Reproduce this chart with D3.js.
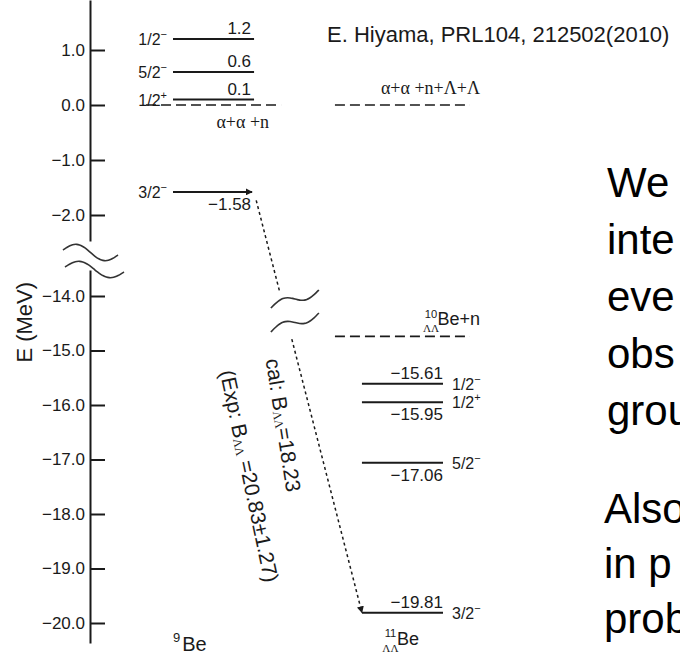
<!DOCTYPE html>
<html>
<head>
<meta charset="utf-8">
<script src="https://cdn.jsdelivr.net/npm/d3@7"></script>
<style>
  body { margin: 0; background: #fff; }
  svg { display: block; font-family: "Liberation Sans", Arial, sans-serif; }
</style>
</head>
<body>
<svg id="chart" width="680" height="660"></svg>
<script>
// level energies in MeV
const be9Energies = [1.2, 0.6, 0.1, -1.58];
const be9Spins = ["1/2", "5/2", "1/2", "3/2"];
const be9Parities = ["−", "−", "+", "−"];
const be9ValueSide = ["above", "above", "above", "below"];

const be11Energies = [-15.61, -15.95, -17.06, -19.81];
const be11Spins = ["1/2", "1/2", "5/2", "3/2"];
const be11Parities = ["−", "+", "−", "−"];
const be11ValueSide = ["above", "below", "below", "above"];

// break-up thresholds
const thresholdEnergies = [0.0, 0.0, -14.74];
const thresholdColumns = ["9Be", "11Be", "11Be"];
const thresholdMass = [null, null, "10"];
const thresholdTexts = ["α+α +n", "α+α +n+Λ+Λ", "Be+n"];
const thresholdSide = ["below", "above", "above"];

const upperTicks = [1, 0, -1, -2];
const lowerTicks = [-14, -15, -16, -17, -18, -19, -20];

const calB = "18.23";
const expB = "20.83";
const expErr = "1.27";

const noteLines1 = ["We", "inte", "eve", "obs", "grou"];
const noteLines2 = ["Also", "in p", "prob"];

const svg = d3.select("#chart");
const sans = '"Liberation Sans", Arial, sans-serif';
const serif = '"Liberation Serif", "Times New Roman", serif';
const ink = "#1a1a1a";

// broken energy axis: two linear pieces
const yTop = d3.scaleLinear().domain([-2, 1]).range([215, 50]);
const yBot = d3.scaleLinear().domain([-20, -14]).range([623, 296]);
const yE = e => (e > -8 ? yTop(e) : yBot(e));

const x = d3.scaleBand().domain(["9Be", "11Be"]).range([173, 443]).paddingInner(0.571);
const bw = x.bandwidth();
const axisX = 90;

// arrowheads
const defs = svg.append("defs");
defs.append("marker")
  .attr("id", "head").attr("viewBox", "0 0 10 10").attr("refX", 9).attr("refY", 5)
  .attr("markerWidth", 7).attr("markerHeight", 7).attr("markerUnits", "userSpaceOnUse")
  .attr("orient", "auto")
  .append("path").attr("d", "M0,0L10,5L0,10z").attr("fill", ink);

// axis segments
const yTopAxis = d3.scaleLinear().domain([yTop.invert(241), yTop.invert(0)]).range([241, 0]);
const yBotAxis = d3.scaleLinear().domain([yBot.invert(643), yBot.invert(270)]).range([643, 270]);

function drawAxis(scale, ticks) {
  const g = svg.append("g")
    .attr("transform", `translate(${axisX},0)`)
    .call(d3.axisLeft(scale).tickValues(ticks).tickSize(-15).tickSizeOuter(0)
      .tickPadding(5).tickFormat(d3.format(".1f")));
  g.selectAll("path, line").attr("stroke", ink).attr("stroke-width", 2);
  g.selectAll("text").attr("font-family", sans).attr("font-size", 17).attr("fill", ink);
}
drawAxis(yTopAxis, upperTicks);
drawAxis(yBotAxis, lowerTicks);

svg.append("text")
  .attr("transform", `translate(32,${(yBot(-15) + yBot(-14)) / 2 - 1}) rotate(-90)`)
  .attr("text-anchor", "middle")
  .attr("font-size", 22).attr("fill", ink)
  .text("E (MeV)");

// wavy break marks
const wave = d3.line().curve(d3.curveBasis);
function tilde(x0, y0, x1, y1, amp) {
  return wave(d3.range(0, 1.0001, 0.05).map(t => [
    x0 + (x1 - x0) * t,
    y0 + (y1 - y0) * t - amp * Math.sin(2 * Math.PI * t)
  ]));
}
const gapMid = (241 + 270) / 2;
[[-27, -5.5, 28, -0.5], [-25, 11.5, 34, 16.5]].forEach(o => {
  svg.append("path")
    .attr("d", tilde(axisX + o[0], gapMid + o[1], axisX + o[2], gapMid + o[3], 7))
    .attr("fill", "none").attr("stroke", "#333").attr("stroke-width", 1.6);
});

// threshold lines
thresholdEnergies.forEach((e, i) => {
  const col = thresholdColumns[i];
  const x0 = x(col) - 27, x1 = x(col) + bw + 27, yy = yE(e);
  svg.append("line")
    .attr("x1", x0).attr("x2", x1).attr("y1", yy).attr("y2", yy)
    .attr("stroke", ink).attr("stroke-width", 1.6).attr("stroke-dasharray", "10,5");
  const below = thresholdSide[i] === "below";
  const xe = col === "9Be" ? x1 - 12 : x1 + 10;
  const yb = below ? yy + 23 : yy - 11;
  if (thresholdMass[i]) {
    nucleus(xe, yb, thresholdMass[i], thresholdTexts[i], 18, "end");
  } else {
    svg.append("text")
      .attr("x", xe).attr("y", yb).attr("text-anchor", "end")
      .attr("font-family", serif).attr("font-size", 18).attr("fill", ink)
      .text(thresholdTexts[i]);
  }
});

// hypernucleus label: pre-scripted mass number and ΛΛ
function nucleus(xp, yb, mass, rest, size, anchor) {
  const main = svg.append("text")
    .attr("x", xp).attr("y", yb).attr("text-anchor", anchor)
    .attr("font-size", size).attr("fill", ink).text(rest);
  const box = main.node().getBBox();
  const cx = box.x - 0.36 * size;
  svg.append("text")
    .attr("x", cx).attr("y", yb - 0.42 * size).attr("text-anchor", "middle")
    .attr("font-size", 0.62 * size).attr("fill", ink).text(mass);
  svg.append("text")
    .attr("x", cx).attr("y", yb + 0.38 * size).attr("text-anchor", "middle")
    .attr("font-family", serif).attr("font-size", 0.62 * size).attr("fill", ink).text("ΛΛ");
}

// levels
const columns = [
  { key: "9Be", energies: be9Energies, spins: be9Spins, parities: be9Parities, side: be9ValueSide },
  { key: "11Be", energies: be11Energies, spins: be11Spins, parities: be11Parities, side: be11ValueSide }
];
const fmt = v => (v < 0 ? "−" : "") + Math.abs(v);

columns.forEach(c => {
  const x0 = x(c.key), x1 = x(c.key) + bw;
  const g = svg.append("g");
  c.energies.forEach((e, i) => {
    const yy = yE(e);
    const ln = g.append("line")
      .attr("x1", x0).attr("x2", c.key === "9Be" && e < -1 ? x1 - 2 : x1)
      .attr("y1", yy).attr("y2", yy)
      .attr("stroke", ink).attr("stroke-width", 2);
    if (c.key === "9Be" && e < -1) ln.attr("marker-end", "url(#head)");

    g.append("text")
      .attr("x", x1 - (c.key === "9Be" ? 3 : 0))
      .attr("y", c.side[i] === "above" ? yy - 5 : yy + 18)
      .attr("text-anchor", "end")
      .attr("font-size", 17).attr("fill", ink)
      .text(fmt(e));

    const left = c.key === "9Be";
    const t = g.append("text")
      .attr("x", left ? x0 - 6 : x1 + 9)
      .attr("y", yy + 6)
      .attr("text-anchor", left ? "end" : "start")
      .attr("font-size", 16).attr("fill", ink);
    t.append("tspan").text(c.spins[i]);
    t.append("tspan").attr("dy", -7).attr("font-size", 11).text(c.parities[i]);
  });
});

// dotted transition arrow, broken where the axis is broken
const p0 = [x("9Be") + bw, yE(be9Energies[3])];
const p1 = [x("11Be"), yE(be11Energies[3])];
const at = t => [p0[0] + (p1[0] - p0[0]) * t, p0[1] + (p1[1] - p0[1]) * t];
const breakT = [0.24, 0.35];
[[0.02, breakT[0]], [breakT[1], 1]].forEach((s, k) => {
  const a = at(s[0]), b = at(s[1]);
  const l = svg.append("line")
    .attr("x1", a[0]).attr("y1", a[1]).attr("x2", b[0]).attr("y2", b[1])
    .attr("stroke", ink).attr("stroke-width", 1.5).attr("stroke-dasharray", "3,3");
  if (k === 1) l.attr("marker-end", "url(#head)");
});
const bc = at((breakT[0] + breakT[1]) / 2);
[[-15, -8, 33, -26], [-15, 16, 33, -3]].forEach(o => {
  svg.append("path")
    .attr("d", tilde(bc[0] + o[0], bc[1] + o[1], bc[0] + o[2], bc[1] + o[3], 5))
    .attr("fill", "none").attr("stroke", "#333").attr("stroke-width", 1.6);
});

// binding energy annotations
function rotated(cx, cy, angle, pre, post) {
  const t = svg.append("text")
    .attr("transform", `translate(${cx},${cy}) rotate(${angle})`)
    .attr("text-anchor", "middle").attr("dominant-baseline", "central")
    .attr("font-size", 21).attr("fill", ink);
  t.append("tspan").text(pre);
  t.append("tspan").attr("dy", 5).attr("font-family", serif).attr("font-size", 12).text("ΛΛ");
  t.append("tspan").attr("dy", -5).text(post);
}
rotated(284, 425, 81, "cal: B", "=" + calB);
rotated(250, 476, 78, "(Exp: B", " =" + expB + "±" + expErr + ")");

// nucleus names under the columns
const be9 = svg.append("text")
  .attr("x", x("9Be")).attr("y", 651)
  .attr("font-size", 20).attr("fill", ink);
be9.append("tspan").attr("dy", -9).attr("font-size", 13).text("9");
be9.append("tspan").attr("dy", 9).attr("dx", 2).text("Be");
nucleus(x("11Be") + 35, 645, "11", "Be", 18, "start");

// header
svg.append("text")
  .attr("x", 327).attr("y", 42)
  .attr("font-size", 22).attr("fill", ink)
  .text("E. Hiyama, PRL104, 212502(2010)");

// slide text running off the right edge, as in the source slide
const notes = svg.append("g").attr("font-size", 42).attr("fill", "#000");
noteLines1.forEach((s, i) => notes.append("text").attr("x", 607).attr("y", 197 + i * 57).text(s));
noteLines2.forEach((s, i) => notes.append("text").attr("x", 604).attr("y", 523 + i * 55).text(s));
</script>
</body>
</html>
